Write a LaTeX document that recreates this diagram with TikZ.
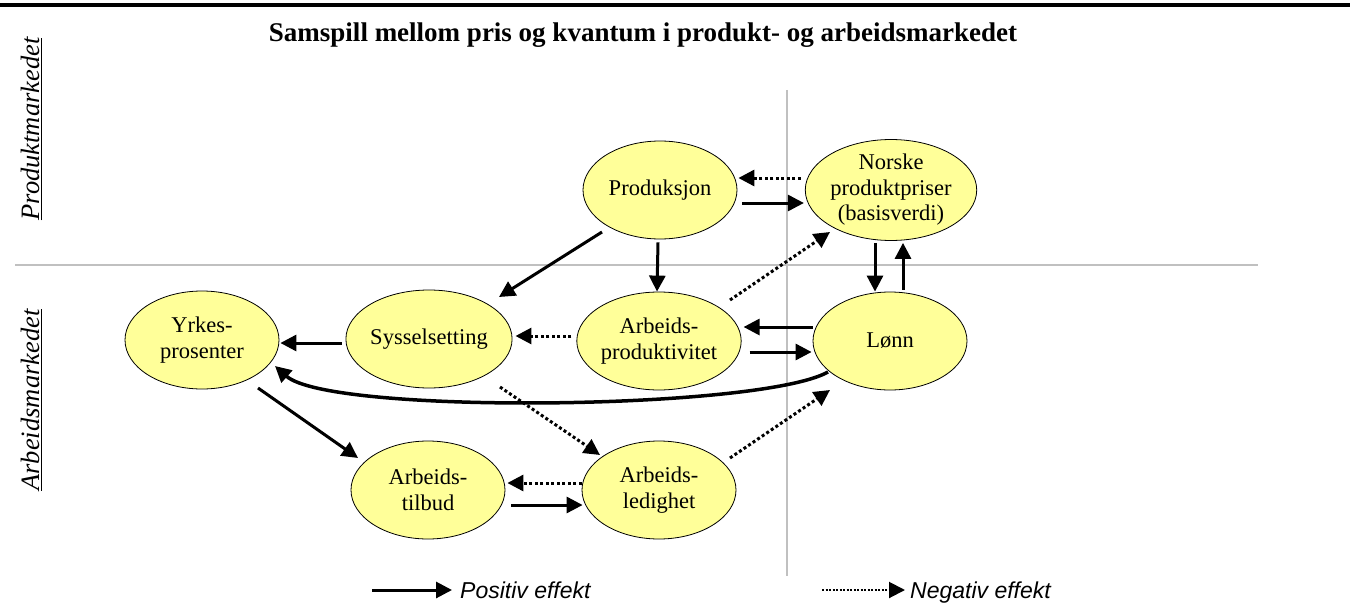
\documentclass[tikz,border=0pt]{standalone}
\usepackage{fontspec}
\setmainfont{Liberation Serif}
\newfontfamily\legendfont{Liberation Sans}
\usetikzlibrary{arrows.meta,calc,shapes.geometric}
\definecolor{ellfill}{HTML}{FFFF99}
\definecolor{guide}{HTML}{C0C0C0}
\begin{document}
\begin{tikzpicture}[x=1pt,y=-1pt,
  bubble/.style={ellipse,draw=black,line width=0.8pt,fill=ellfill,minimum width=154pt,minimum height=98pt,inner sep=0pt,align=center,font=\fontsize{22.5}{25.5}\selectfont},
  posarrow/.style={line width=3pt,-{Triangle[length=16pt,width=16pt]}},
  negarrow/.style={line width=3pt,dash pattern=on 3pt off 2.5pt,-{Triangle[length=16pt,width=16pt]}},
  guideline/.style={draw=guide,line width=1.5pt},
  sidelabel/.style={rotate=90,font=\fontsize{26.5}{30}\selectfont\itshape,inner sep=0pt},
  legendtext/.style={anchor=base west,inner sep=0pt,font=\legendfont\fontsize{23}{26}\selectfont\itshape}
]
\useasboundingbox (0,0) rectangle (1350,610);
% frame line and guides
\draw[line width=4pt] (0,5) -- (1350,5);
\draw[guideline] (15,265) -- (1258,265);
\draw[guideline] (787,90) -- (787,576);
% title and side labels
\node[anchor=base,inner sep=0pt,font=\fontsize{27}{30}\selectfont\bfseries] (title) at (643,42) {Samspill mellom pris og kvantum i produkt- og arbeidsmarkedet};
\node[sidelabel] (lprod) at (31,129) {\underline{Produktmarkedet}};
\node[sidelabel] (larb) at (31,400) {\underline{Arbeidsmarkedet}};
% nodes
\node[bubble] (prod) at (660,190) {Produksjon};
\node[bubble] (norske) at (891,190) {Norske\\produktpriser\\(basisverdi)};
\node[bubble] (aprod) at (659,341) {Arbeids-\\produktivitet};
\node[bubble] (lonn) at (890,341) {Lønn};
\node[bubble] (yrkes) at (202,340) {Yrkes-\\prosenter};
\node[bubble] (syss) at (429,339) {Sysselsetting};
\node[bubble] (atilb) at (428,490) {Arbeids-\\tilbud};
\node[bubble] (aled) at (659,490) {Arbeids-\\ledighet};
% connectors
\draw[negarrow] ($(norske.west)+(-4,-12)$) -- ($(prod.east)+(1,-12)$);
\draw[posarrow] ($(prod.east)+(5,13)$) -- ($(norske.west)+(-1,13)$);
\draw[posarrow] ($(prod)+(-58,42)$) -- ($(syss)+(70,-42)$);
\draw[posarrow] ($(prod.south)+(-2,3)$) -- ($(aprod.north)+(-2,0)$);
\draw[negarrow] ($(aprod)+(71,-41)$) -- ($(norske)+(-61,42)$);
\draw[posarrow] ($(norske.south)+(-16,2)$) -- ($(lonn.north)+(-15,0)$);
\draw[posarrow] ($(lonn.north)+(13,-2)$) -- ($(norske.south)+(12,2)$);
\draw[posarrow] ($(lonn.west)+(0,-14)$) -- ($(aprod.east)+(2,-14)$);
\draw[posarrow] ($(aprod.east)+(8,11)$) -- ($(lonn.west)+(-1,11)$);
\draw[negarrow] ($(aprod.west)+(-5,-5)$) -- ($(syss.east)+(3,-3)$);
\draw[posarrow] ($(syss.west)+(-4,4)$) -- ($(yrkes.east)+(1,3)$);
\draw[posarrow,line width=3.5pt] ($(lonn)+(-62,31)$) .. controls ($(lonn)+(-130,69)$) and ($(yrkes)+(128,75)$) .. ($(yrkes)+(73,26)$);
\draw[posarrow] ($(yrkes)+(56,48)$) -- ($(atilb)+(-70,-32)$);
\draw[negarrow] ($(syss)+(71,48)$) -- ($(aled)+(-59,-35)$);
\draw[negarrow] ($(aled.west)+(0,-7)$) -- ($(atilb.east)+(2,-7)$);
\draw[posarrow] ($(atilb.east)+(6,15)$) -- ($(aled.west)+(1,15)$);
\draw[negarrow] ($(aled)+(71,-32)$) -- ($(lonn)+(-60,49)$);
% legend
\coordinate (lps) at (372,590);
\coordinate (lpe) at (452,590);
\coordinate (lns) at (822,590);
\coordinate (lne) at (905,590);
\draw[posarrow] (lps) -- (lpe);
\draw[negarrow,line width=2pt,dash pattern=on 2pt off 1.5pt] (lns) -- (lne);
\node[legendtext] (lpt) at (460,598) {Positiv effekt};
\node[legendtext] (lnt) at (910,598) {Negativ effekt};
\end{tikzpicture}
\end{document}
